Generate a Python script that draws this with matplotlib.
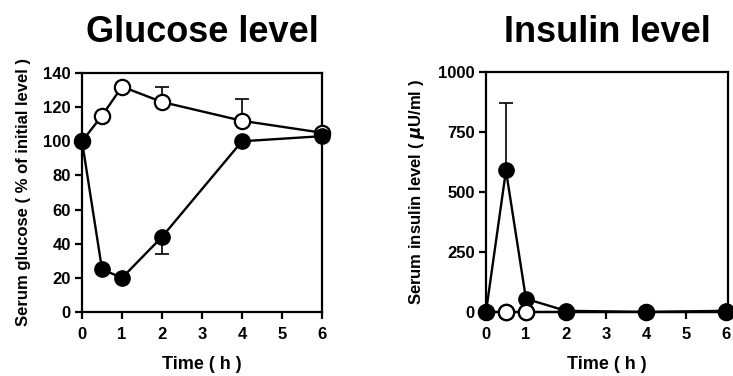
import numpy as np
import matplotlib
matplotlib.use("Agg")
import matplotlib.pyplot as plt

plt.rcParams['font.family'] = ['Liberation Sans', 'DejaVu Sans']
plt.rcParams['font.weight'] = 'bold'

# data
time_h = [0, 0.5, 1, 2, 4, 6]

glu_open = [100, 115, 132, 123, 112, 105]
glu_open_err_up = [0, 0, 0, 9, 13, 0]
glu_filled = [100, 25, 20, 44, 100, 103]
glu_filled_err_down = [0, 0, 0, 10, 0, 0]

ins_open = [0, 0, 0, 0, 0, 0]
ins_filled = [0, 590, 55, 5, 0, 5]
ins_filled_err_up = [0, 280, 0, 0, 0, 0]

fig = plt.figure(figsize=(7.33, 3.76), dpi=100)
ax1 = fig.add_axes([0.1119, 0.1702, 0.3274, 0.6357])
ax2 = fig.add_axes([0.663, 0.1702, 0.330, 0.638])

ms = 11
lw = 1.7


def style(ax):
    for s in ax.spines.values():
        s.set_linewidth(1.6)
    ax.tick_params(direction='out', length=5, width=1.6, labelsize=12)
    ax.tick_params(axis='x', pad=6)
    ax.tick_params(axis='y', pad=3)
    for lab in ax.get_xticklabels() + ax.get_yticklabels():
        lab.set_fontweight('bold')


# glucose
ax1.errorbar(time_h, glu_open, yerr=[np.zeros(6), glu_open_err_up], fmt='none',
             ecolor='black', elinewidth=1.2, capsize=5, capthick=1.2, zorder=1)
ax1.errorbar(time_h, glu_filled, yerr=[glu_filled_err_down, np.zeros(6)], fmt='none',
             ecolor='black', elinewidth=1.2, capsize=5, capthick=1.2, zorder=1)
ax1.plot(time_h, glu_open, '-o', color='black', mfc='white', mec='black', mew=1.6,
         ms=ms, lw=lw, zorder=3, clip_on=False)
ax1.plot(time_h, glu_filled, '-o', color='black', mfc='black', mec='black',
         ms=ms, lw=lw, zorder=4, clip_on=False)
ax1.set_xlim(0, 6)
ax1.set_ylim(0, 140)
ax1.set_xticks([0, 1, 2, 3, 4, 5, 6])
ax1.set_yticks([0, 20, 40, 60, 80, 100, 120, 140])
ax1.set_xlabel('Time ( h )', fontsize=13, fontweight='bold', labelpad=10)
ax1.set_ylabel('Serum glucose ( % of initial level )', fontsize=12, fontweight='bold', labelpad=9)
ax1.set_title('Glucose level', fontsize=26, fontweight='bold', pad=22)
style(ax1)

# insulin
ax2.errorbar(time_h, ins_filled, yerr=[np.zeros(6), ins_filled_err_up], fmt='none',
             ecolor='black', elinewidth=1.2, capsize=5, capthick=1.2, zorder=1)
ax2.plot(time_h, ins_open, '-o', color='black', mfc='white', mec='black', mew=1.6,
         ms=ms, lw=lw, zorder=3, clip_on=False)
ax2.plot(time_h, ins_filled, '-o', color='black', mfc='black', mec='black',
         ms=ms, lw=lw, zorder=4, clip_on=False)
# open markers hidden behind filled ones except at 0.5 and 1 h
ax2.plot([0.5, 1], [0, 0], 'o', mfc='white', mec='black', mew=1.6, ms=ms, zorder=5, clip_on=False)
ax2.set_xlim(0, 6.05)
ax2.set_ylim(0, 1000)
ax2.set_xticks([0, 1, 2, 3, 4, 5, 6])
ax2.set_yticks([0, 250, 500, 750, 1000])
ax2.set_xlabel('Time ( h )', fontsize=13, fontweight='bold', labelpad=10)
ax2.set_ylabel('Serum insulin level ( $\\mu$U/ml )', fontsize=12, fontweight='bold', labelpad=8)
ax2.set_title('Insulin level', fontsize=26, fontweight='bold', pad=22)
style(ax2)

fig.savefig('out.png', dpi=100)
